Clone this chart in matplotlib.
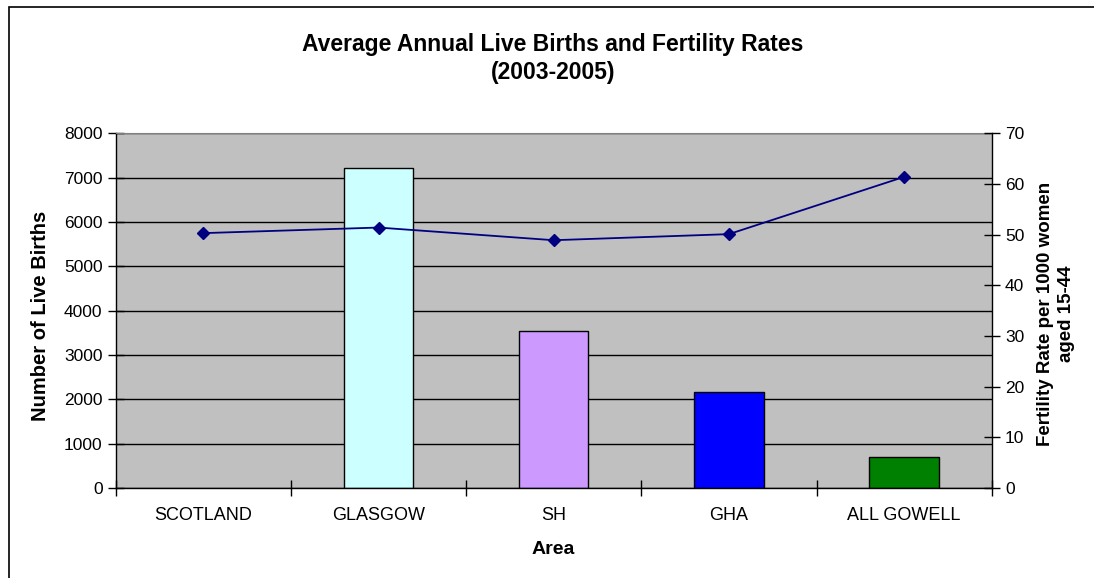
import numpy as np
import matplotlib
matplotlib.use("Agg")
import matplotlib.pyplot as plt
from matplotlib.patches import Rectangle

plt.rcParams['font.family'] = ['Liberation Sans', 'DejaVu Sans']

# Data
areas = ["SCOTLAND", "GLASGOW", "SH", "GHA", "ALL GOWELL"]
live_births = [np.nan, 7210, 3540, 2170, 705]
fertility_rate = [50.3, 51.4, 48.9, 50.1, 61.4]
bar_colors = ["#C0C0C0", "#CCFFFF", "#CC99FF", "#0000FF", "#008000"]
births_ticks = [0, 1000, 2000, 3000, 4000, 5000, 6000, 7000, 8000]
rate_ticks = [0, 10, 20, 30, 40, 50, 60, 70]

W, H = 1094, 578
fig = plt.figure(figsize=(W / 100, H / 100), dpi=100)

# Chart-area border
fig.patches.append(Rectangle((9 / W, -0.1), 1.2, 1 - 7 / H + 0.1,
                             transform=fig.transFigure, fill=False,
                             edgecolor="black", linewidth=1.2))

left, right = 115.7 / W, 991.7 / W
bottom, top = 1 - 488 / H, 1 - 133.3 / H
ax = fig.add_axes([left, bottom, right - left, top - bottom])
ax.set_facecolor("#C0C0C0")

x = np.arange(len(areas))
ax.set_axisbelow(True)
ax.yaxis.grid(True, color="black", linewidth=1.0)
ax.bar(x, live_births, width=0.395, color=bar_colors, edgecolor="black",
       linewidth=1.0, zorder=2)

ax.set_xlim(-0.5, len(areas) - 0.5)
ax.set_ylim(0, 8000)
ax.set_yticks(births_ticks)
ax.set_xticks(x)
ax.set_xticklabels(areas, fontsize=13)
ax.set_xticks(np.arange(len(areas) + 1) - 0.5, minor=True)
ax.tick_params(axis="x", which="major", length=0, pad=14)
ax.tick_params(axis="x", which="minor", direction="inout", length=11, width=1)
ax.tick_params(axis="y", direction="inout", length=11, width=1, labelsize=12.5, pad=4)

for s in ("left", "bottom"):
    ax.spines[s].set_color("black")
    ax.spines[s].set_linewidth(1.0)
ax.spines["top"].set_color("#808080")
ax.spines["right"].set_visible(False)

ax2 = ax.twinx()
ax2.plot(x, fertility_rate, color="#000080", linewidth=1.3, marker="D",
         markersize=6, zorder=3)
ax2.set_ylim(0, 70)
ax2.set_yticks(rate_ticks)
ax2.tick_params(axis="y", direction="inout", length=11, width=1, labelsize=12.5, pad=4)
for s in ("left", "top", "bottom"):
    ax2.spines[s].set_visible(False)
ax2.spines["right"].set_color("black")
ax2.spines["right"].set_linewidth(1.0)

# Titles
title_x = 553 / W
fig.text(title_x, 1 - 45 / H, "Average Annual Live Births and Fertility Rates",
         ha="center", va="center", fontsize=16.5, fontweight="bold")
fig.text(title_x, 1 - 73 / H, "(2003-2005)", ha="center", va="center",
         fontsize=16.5, fontweight="bold")
fig.text(41 / W, (bottom + top) / 2 - 5 / H, "Number of Live Births", rotation=90,
         ha="center", va="center", fontsize=14.5, fontweight="bold")
fig.text(1056 / W, (bottom + top) / 2 - 3 / H, "Fertility Rate per 1000 women\naged 15-44",
         rotation=90, ha="center", va="center", fontsize=13.5,
         fontweight="bold", linespacing=1.3)
fig.text((left + right) / 2, 1 - 549 / H, "Area", ha="center", va="center",
         fontsize=14, fontweight="bold")

fig.savefig("out.png", dpi=100)
